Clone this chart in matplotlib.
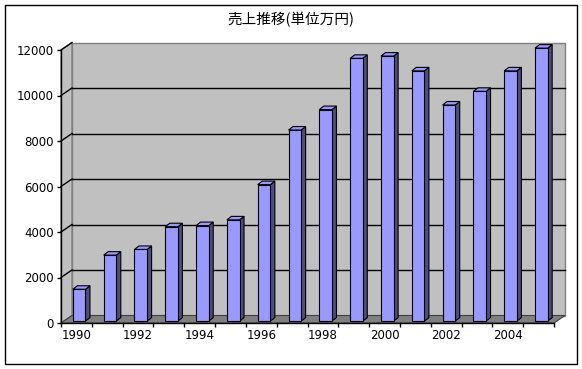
import numpy as np
import matplotlib
matplotlib.use("Agg")
import matplotlib.pyplot as plt
from matplotlib.patches import Rectangle

# data
years = list(range(1990, 2006))
sales = [1400, 2900, 3150, 4150, 4200, 4450, 6000, 8400,
         9300, 11550, 11650, 11000, 9500, 10100, 11000, 12000]
yticks = [0, 2000, 4000, 6000, 8000, 10000, 12000]
title = "売上推移(単位万円)"

W, H = 582, 369
fig = plt.figure(figsize=(W / 100, H / 100), dpi=100)
fig.patch.set_facecolor("white")

# outer chart border
fig.add_artist(Rectangle((5 / W, 5 / H), 572 / W, 359 / H, transform=fig.transFigure,
                         fill=False, edgecolor="black", lw=1))

# front plane of the 3D box: x 61..554 px, y 323..50 px (from top)
left, right, bottom, top = 61, 554, 323, 50
ax = fig.add_axes([left / W, (H - bottom) / H, (right - left) / W, (bottom - top) / H])
n = len(years)
ax.set_xlim(-0.5, n - 0.5)
ax.set_ylim(0, 12000)
ax.patch.set_visible(False)

px_x = (right - left) / n          # px per category
px_y = (bottom - top) / 12000      # px per value unit
ddx = 11 / px_x                    # depth offset of the box
ddy = 7.5 / px_y

x0, x1 = -0.5, n - 0.5
# back wall
ax.fill([x0 + ddx, x1 + ddx, x1 + ddx, x0 + ddx], [ddy, ddy, 12000 + ddy, 12000 + ddy],
        facecolor="#c0c0c0", edgecolor="#808080", lw=1, zorder=0, clip_on=False)
# left wall
ax.fill([x0, x0 + ddx, x0 + ddx, x0], [0, ddy, 12000 + ddy, 12000],
        facecolor="#c0c0c0", edgecolor="#808080", lw=1, zorder=0, clip_on=False)
# floor
ax.fill([x0, x1, x1 + ddx, x0 + ddx], [0, 0, ddy, ddy],
        facecolor="#808080", edgecolor="#404040", lw=0.8, zorder=1, clip_on=False)

# gridlines on back wall and left wall
for v in yticks[1:-1]:
    ax.plot([x0 + ddx, x1 + ddx], [v + ddy, v + ddy], color="black", lw=1, zorder=1, clip_on=False)
for v in yticks[1:]:
    ax.plot([x0, x0 + ddx], [v, v + ddy], color="black", lw=1, zorder=1, clip_on=False)

# bars (front face at a quarter of the depth)
f = 0.25
bw = 0.41
bdx = 4.5 / px_x
bdy = 3.5 / px_y
xs = np.arange(n) + f * ddx
base = f * ddy
ax.bar(xs, sales, width=bw, bottom=base, color="#9999ff", edgecolor="black",
       lw=0.8, zorder=3, clip_on=False)
for xc, v in zip(xs, sales):
    a, b = xc - bw / 2, xc + bw / 2
    t = base + v
    ax.fill([b, b + bdx, b + bdx, b], [base, base + bdy, t + bdy, t],
            facecolor="#4d4d80", edgecolor="black", lw=0.8, zorder=2, clip_on=False)
    ax.fill([a, b, b + bdx, a + bdx], [t, t, t + bdy, t + bdy],
            facecolor="#9999ff", edgecolor="black", lw=0.8, zorder=2, clip_on=False)

# axes
for s in ["top", "right"]:
    ax.spines[s].set_visible(False)
ax.spines["left"].set_linewidth(1)
ax.spines["bottom"].set_linewidth(1)
ax.spines["left"].set_zorder(4)
ax.spines["bottom"].set_zorder(4)

ax.set_yticks(yticks)
ax.set_yticklabels([str(v) for v in yticks])
ax.tick_params(axis="y", length=3, width=1, pad=2, labelsize=8.5, direction="out")

ax.set_xticks(np.arange(0, n, 2))
ax.set_xticklabels([str(y) for y in years[::2]])
ax.set_xticks(np.arange(n + 1) - 0.5, minor=True)
ax.tick_params(axis="x", which="major", length=0, pad=4, labelsize=8.5)
ax.tick_params(axis="x", which="minor", length=3, width=1, direction="out")

fig.text(291 / W, (H - 20) / H, title, ha="center", va="center", fontsize=10.5,
         family=["Noto Sans CJK JP", "DejaVu Sans"])

fig.savefig("out.png", dpi=100)
